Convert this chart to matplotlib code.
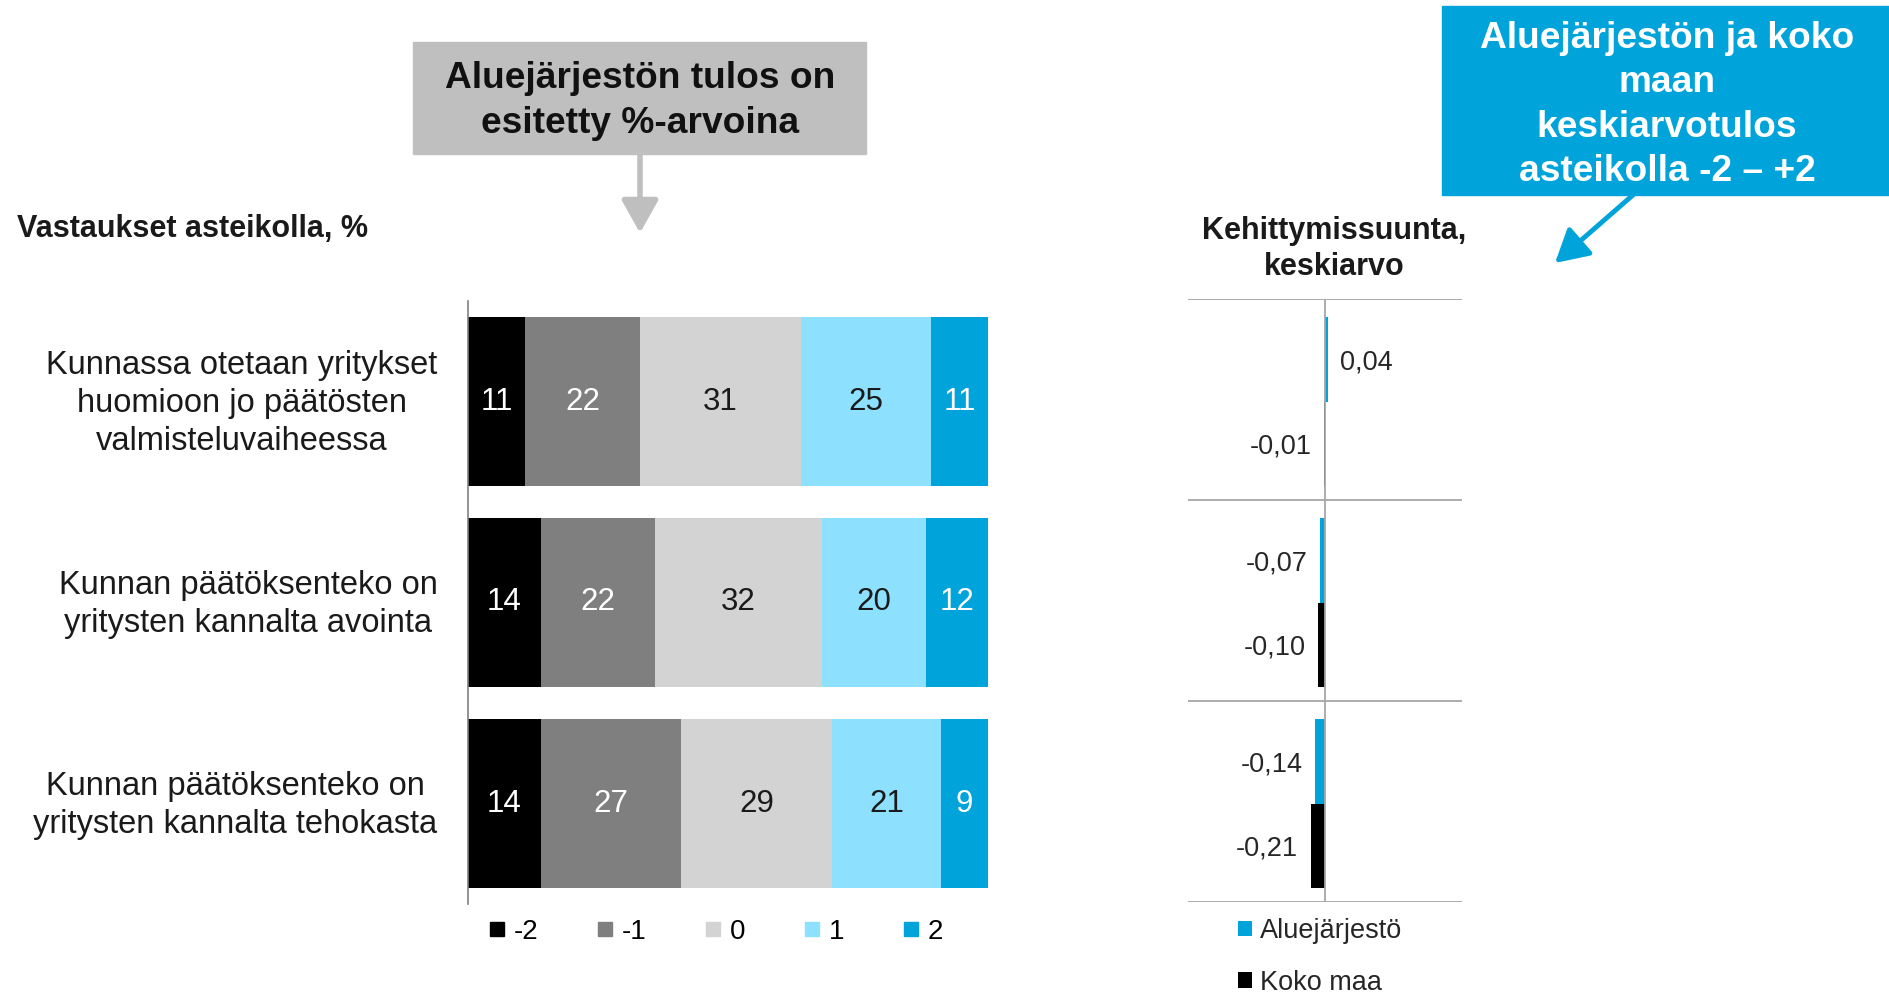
import matplotlib
matplotlib.use("Agg")
from matplotlib import pyplot as plt
from matplotlib.patches import Rectangle
from matplotlib.lines import Line2D
from matplotlib.transforms import ScaledTranslation
import numpy as np

plt.rcParams['font.family'] = ['Liberation Sans', 'DejaVu Sans']

# Survey statements and answer distribution (%) on the -2..2 scale
statements = ["Kunnassa otetaan yritykset\nhuomioon jo päätösten\nvalmisteluvaiheessa",
              "Kunnan päätöksenteko on\nyritysten kannalta avointa",
              "Kunnan päätöksenteko on\nyritysten kannalta tehokasta"]
scale_labels = ["-2", "-1", "0", "1", "2"]
share_m2 = [11, 14, 14]
share_m1 = [22, 22, 27]
share_0 = [31, 32, 29]
share_p1 = [25, 20, 21]
share_p2 = [11, 12, 9]

# Mean results on the -2..+2 scale
mean_region = [0.04, -0.07, -0.14]
mean_country = [-0.01, -0.10, -0.21]
mean_names = ["Aluejärjestö", "Koko maa"]

seg_colors = ["#000000", "#7F7F7F", "#D3D3D3", "#8DE1FF", "#00A3DA"]
seg_text = ["white", "white", "#1A1A1A", "#1A1A1A", "white"]
blue = "#00A3DA"

W, H = 1890, 997
fig = plt.figure(figsize=(W / 100, H / 100), dpi=100)


def px_axes(x0, y0, x1, y1):
    return fig.add_axes([x0 / W, 1 - y1 / H, (x1 - x0) / W, (y1 - y0) / H])


def fmt(v):
    return f"{v:.2f}".replace(".", ",")


# stacked distribution bars
ax = px_axes(468, 301, 988, 904)
shares = [share_m2, share_m1, share_0, share_p1, share_p2]
ypos = np.arange(len(statements))
left = np.zeros(len(statements))
for vals, col, tcol, lab in zip(shares, seg_colors, seg_text, scale_labels):
    vals = np.array(vals)
    ax.barh(ypos, vals, left=left, height=0.84, color=col, label=lab)
    for y, v, l in zip(ypos, vals, left):
        ax.text(l + v / 2, y, str(v), ha="center", va="center",
                fontsize=22.5, color=tcol)
    left += vals
ax.set_xlim(0, 100)
ax.set_ylim(2.5, -0.5)
for s in ["top", "right", "bottom"]:
    ax.spines[s].set_visible(False)
ax.spines["left"].set_color("#808080")
ax.spines["left"].set_linewidth(1.2)
ax.set_xticks([])
ax.set_yticks(ypos)
ax.set_yticklabels(statements, fontsize=23.5, color="#1A1A1A",
                   multialignment="center", linespacing=1.29)
ax.tick_params(axis="y", length=0, pad=22)
lift = ScaledTranslation(0, 0.05, fig.dpi_scale_trans)
for lbl in ax.get_yticklabels():
    lbl.set_transform(lbl.get_transform() + lift)

handles = [Line2D([], [], marker="s", ls="", color=c, markersize=10.5)
           for c in seg_colors]
ax.legend(handles, scale_labels, loc="center",
          bbox_to_anchor=(0.477, -0.046), ncol=5, frameon=False,
          fontsize=20, handlelength=0.6, handletextpad=0.3,
          columnspacing=2.1)

# mean values
ax2 = px_axes(1188, 299, 1462, 902)
ax2.set_xlim(-2, 2)
ax2.set_ylim(2.5, -0.5)
ax2.barh(ypos - 0.2, mean_region, height=0.42, color=blue,
         label=mean_names[0])
ax2.barh(ypos + 0.22, mean_country, height=0.42, color="#000000",
         label=mean_names[1])
for off, series in [(-0.2, mean_region), (0.22, mean_country)]:
    for y, v in zip(ypos, series):
        ax2.annotate(fmt(v), (v, y + off),
                     xytext=(9 if v >= 0 else -9, 0),
                     textcoords="offset points",
                     ha="left" if v >= 0 else "right", va="center_baseline",
                     fontsize=19.5, color="#262626")
for yl in [-0.5, 0.5, 1.5, 2.5]:
    ax2.axhline(yl, color="#A6A6A6", lw=1.3)
ax2.axvline(0, color="#A6A6A6", lw=1.3)
ax2.axis("off")
ax2.legend(loc="upper left", bbox_to_anchor=(0.095, 0.014), frameon=False,
           fontsize=19.5, handlelength=0.5, handleheight=0.5,
           handletextpad=0.3, labelspacing=0.95, labelcolor="#262626")

# titles and callouts drawn in pixel coordinates
ov = fig.add_axes([0, 0, 1, 1], zorder=5)
ov.set_xlim(0, W)
ov.set_ylim(H, 0)
ov.axis("off")
ov.patch.set_alpha(0)

ov.text(17, 229, "Vastaukset asteikolla, %", fontsize=22, fontweight="bold",
        ha="left", va="center", color="#1A1A1A")
ov.text(1334, 249, "Kehittymissuunta,\nkeskiarvo", fontsize=22,
        fontweight="bold", ha="center", va="center", color="#1A1A1A",
        linespacing=1.28)

ov.add_patch(Rectangle((413, 42), 453, 112, color="#BFBFBF"))
ov.text(640, 101, "Aluejärjestön tulos on\nesitetty %-arvoina", fontsize=26.7,
        fontweight="bold", ha="center", va="center", color="#111111",
        linespacing=1.34)
ov.annotate("", xy=(640, 233), xytext=(640, 154),
            arrowprops=dict(arrowstyle="-|>,head_length=0.5,head_width=0.28",
                            color="#BFBFBF", lw=4, mutation_scale=40,
                            shrinkA=0, shrinkB=0))

ov.add_patch(Rectangle((1442, 6), 448, 189, color=blue))
ov.text(1667, 105, "Aluejärjestön ja koko\nmaan\nkeskiarvotulos\nasteikolla -2 – +2",
        fontsize=26.7, fontweight="bold", ha="center", va="center",
        color="white", linespacing=1.35)
ov.annotate("", xy=(1555, 263), xytext=(1633, 195),
            arrowprops=dict(arrowstyle="-|>,head_length=0.5,head_width=0.28",
                            color=blue, lw=3.5, mutation_scale=40,
                            shrinkA=0, shrinkB=0))

fig.savefig("out.png", dpi=100)
